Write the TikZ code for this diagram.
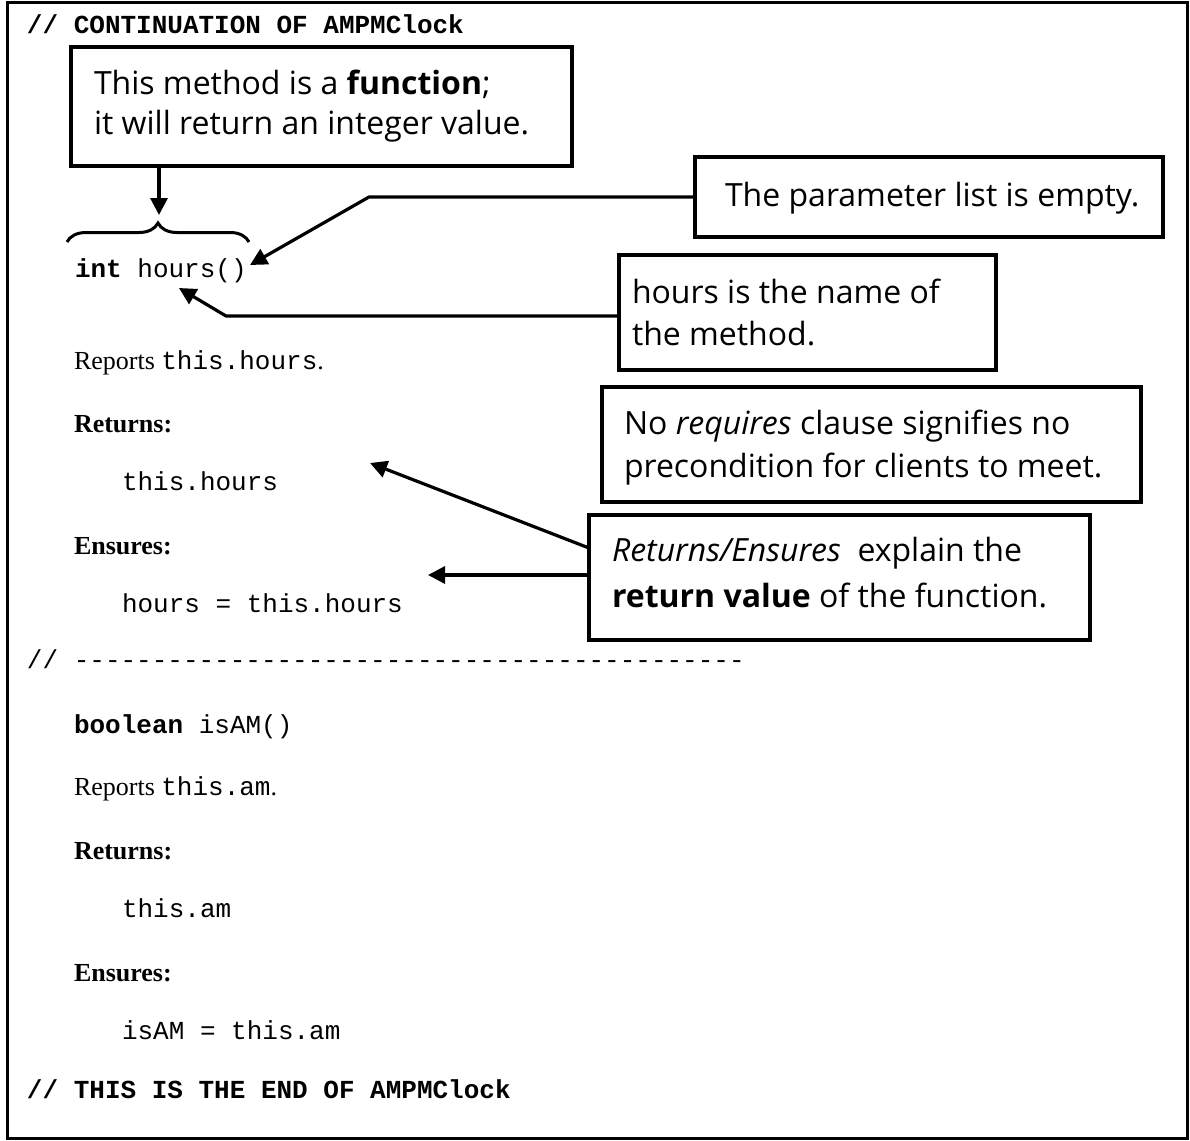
\documentclass[tikz,border=0pt]{standalone}
\usepackage{fontspec}
\setmainfont{Liberation Serif}
\setmonofont{Liberation Mono}
\newfontfamily\notefont{Open Sans}
\usetikzlibrary{arrows.meta,decorations.pathreplacing,calc}

\begin{document}
\begin{tikzpicture}[x=1pt,y=-1pt,
  frame/.style={line width=3pt},
  callout/.style={draw, line width=3.5pt, inner sep=0pt, outer sep=0pt, anchor=north west},
  note/.style={inner sep=0pt, outer sep=0pt, anchor=base west, font=\notefont\fontsize{32}{38}\selectfont},
  code/.style={inner sep=0pt, outer sep=0pt, anchor=base west, font=\ttfamily\fontsize{26}{30}\selectfont},
  prose/.style={inner sep=0pt, outer sep=0pt, anchor=base west, font=\rmfamily\fontsize{26}{30}\selectfont},
  pointer/.style={line width=3.2pt, line join=round, -{Triangle[length=17pt,width=17pt]}},
  bracket/.style={line width=3pt, decorate, decoration={brace, amplitude=19pt}},
]
\useasboundingbox (0,0) rectangle (1190,1140);
\draw[frame] (7,2.5) rectangle (1187,1138);

% listing of the two accessor methods
\node[code] (hdr) at (27,34) {\bfseries // CONTINUATION OF AMPMClock};
\node[code] (sig1) at (75,277) {\textbf{int} hours()};
\node[prose] (rep1) at (74,369) {Reports \texttt{this.hours}.};
\node[prose] (ret1) at (74,432) {\textbf{Returns:}};
\node[code] (rv1) at (122,490) {this.hours};
\node[prose] (ens1) at (74,554) {\textbf{Ensures:}};
\node[code] (ev1) at (122,612) {hours = this.hours};
\node[code] (sep) at (27,668) {// -------------------------------------------};
\node[code] (sig2) at (74,733) {\textbf{boolean} isAM()};
\node[prose] (rep2) at (74,795) {Reports \texttt{this.am}.};
\node[prose] (ret2) at (74,859) {\textbf{Returns:}};
\node[code] (rv2) at (122,917) {this.am};
\node[prose] (ens2) at (74,981) {\textbf{Ensures:}};
\node[code] (ev2) at (122,1039) {isAM = this.am};
\node[code] (ftr) at (27,1098) {\bfseries // THIS IS THE END OF AMPMClock};

% callout boxes
\node[callout, minimum width=501pt, minimum height=119pt] (fbox) at (71,47) {};
\node[note] (f1) at (94,94) {This method is a \textbf{function};};
\node[note] (f2) at (94,134) {it will return an integer value.};

\node[callout, minimum width=468pt, minimum height=80pt] (pbox) at (695,157) {};
\node[note] (p1) at (725,206) {The parameter list is empty.};

\node[callout, minimum width=377pt, minimum height=115pt] (hbox) at (619,255) {};
\node[note] (h1) at (632,303) {hours is the name of};
\node[note] (h2) at (632,345) {the method.};

\node[callout, minimum width=539pt, minimum height=115pt] (nbox) at (602,387) {};
\node[note] (n1) at (624,434) {No \textit{requires} clause signifies no};
\node[note] (n2) at (624,477) {precondition for clients to meet.};

\node[callout, minimum width=501pt, minimum height=125pt] (rbox) at (589,515) {};
\node[note] (r1) at (612,561) {\textit{Returns/Ensures}\ \ explain the};
\node[note] (r2) at (612,607) {\textbf{return value} of the function.};

% brace over the return type
\coordinate (braceL) at (67,242);
\coordinate (braceR) at (249,242);
\draw[bracket] (braceL) -- (braceR);

% connectors
\coordinate (fTip) at (159,215);
\draw[pointer] (fbox.south -| fTip) -- (fTip);

\coordinate (pBend) at (369,197);
\coordinate (pTip) at (250,265);
\draw[pointer] (pbox.west) -- (pBend) -- (pTip);

\coordinate (hBend) at (226,316);
\coordinate (hTip) at (179,288);
\draw[pointer] (hbox.west |- hBend) -- (hBend) -- (hTip);

\coordinate (rOut1) at ([yshift=29.5pt]rbox.west);
\coordinate (rTip1) at (370,463);
\draw[pointer] (rOut1) -- (rTip1);

\coordinate (rTip2) at (428,575);
\draw[pointer] (rbox.west |- rTip2) -- (rTip2);
\end{tikzpicture}
\end{document}
